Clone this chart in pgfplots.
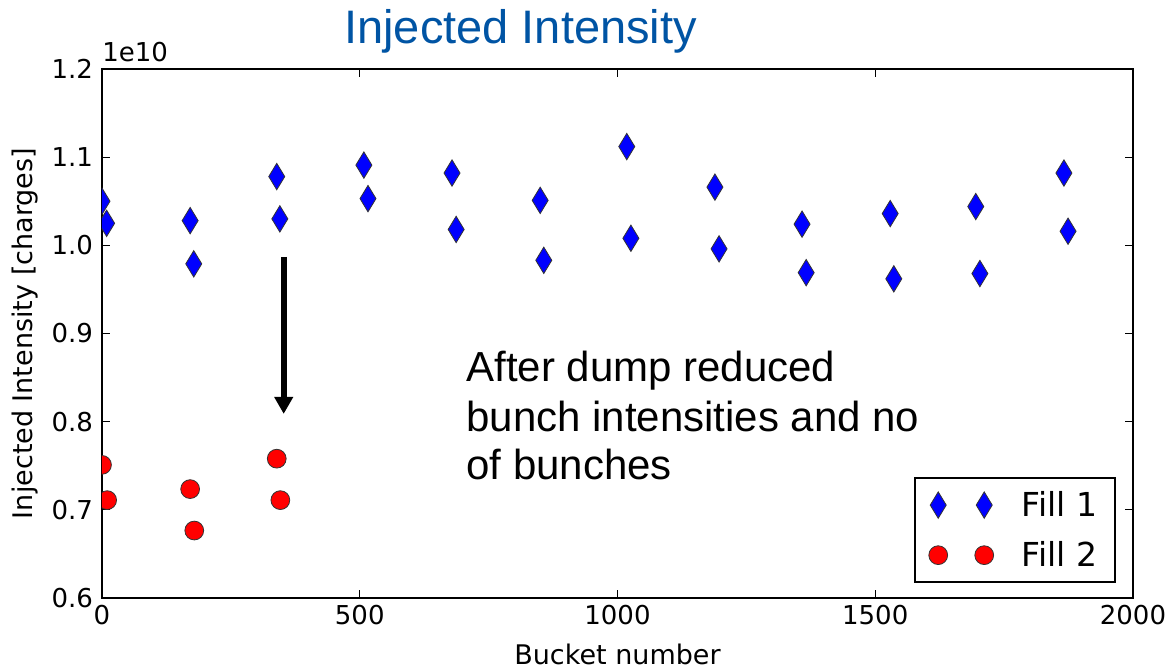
\documentclass[border=0pt]{standalone}
\usepackage{fontspec}
\setmainfont{DejaVu Sans}
\newfontfamily\arial{Liberation Sans}
\usepackage{pgfplots}
\pgfplotsset{compat=1.18}
\usetikzlibrary{arrows.meta}
\definecolor{titleblue}{RGB}{0,84,164}

\begin{document}
\begin{tikzpicture}
\useasboundingbox (-51pt,-35pt) rectangle (533pt,299pt);
\begin{axis}[
  scale only axis, width=515.5pt, height=264.5pt,
  at={(0,0)}, anchor=south west,
  xmin=0, xmax=2000, ymin=0.6, ymax=1.2,
  xtick={0,500,1000,1500,2000},
  ytick={0.6,0.7,0.8,0.9,1.0,1.1,1.2},
  /pgf/number format/assume math mode=true,
  xticklabel style={/pgf/number format/1000 sep={}, font=\fontsize{13}{15}\selectfont},
  yticklabel style={/pgf/number format/fixed, /pgf/number format/fixed zerofill, /pgf/number format/precision=1, font=\fontsize{13}{15}\selectfont, xshift=-1pt},
  tick align=inside, major tick length=4pt,
  every tick/.style={black, line width=0.6pt},
  axis line style={line width=0.8pt},
  xlabel={Bucket number},
  ylabel={Injected Intensity [charges]},
  xlabel style={font=\fontsize{13.5}{16}\selectfont, at={(axis description cs:0.5,-0.1248)}, anchor=base, inner sep=0pt},
  ylabel style={font=\fontsize{13.5}{16}\selectfont, at={(axis description cs:-0.0611,0.5)}, anchor=south, rotate=0, inner sep=0pt},
  clip marker paths=true,
  legend cell align=left,
  legend image code/.code={\draw[only marks] plot coordinates {(0pt,0pt) (23pt,0pt)};},
  legend style={draw=black, line width=0.8pt, font=\fontsize{16.5}{19}\selectfont,
    at={(rel axis cs:1,0)}, anchor=south east, xshift=-8.5pt, yshift=7.5pt,
    inner xsep=7pt, inner ysep=4.5pt, row sep=7pt, column sep=12pt},
  after end axis/.code={
    \node[anchor=base, font=\arial\fontsize{23.5}{28}\selectfont, text=titleblue, inner sep=0pt, yshift=12.5pt] at (rel axis cs:0.406,1) {Injected Intensity};
    \node[anchor=base west, font=\fontsize{13}{15}\selectfont, inner sep=0pt, yshift=3.6pt] at (rel axis cs:0,1) {1e10};
    \node[anchor=base west, font=\arial\fontsize{21}{25}\selectfont, inner sep=0pt] at (axis cs:706,0.8451) {After dump reduced};
    \node[anchor=base west, font=\arial\fontsize{21}{25}\selectfont, inner sep=0pt] at (axis cs:706,0.7884) {bunch intensities and no};
    \node[anchor=base west, font=\arial\fontsize{21}{25}\selectfont, inner sep=0pt] at (axis cs:706,0.7340) {of bunches};
    \draw[line width=3pt, -{Triangle[width=9pt,length=8.5pt]}] (axis cs:352.5,0.9868) -- (axis cs:352.5,0.8088);
  },
]
\addplot[only marks, mark=diamond*, mark size=6.6pt,
  mark options={fill={rgb,255:red,0;green,0;blue,255}, draw=black!80, line width=0.4pt, xscale=0.81}]
coordinates {
(0,1.050) (9,1.025)
(171,1.028) (178,0.979)
(339,1.078) (345,1.030)
(508,1.091) (516,1.053)
(679,1.082) (687,1.018)
(850,1.051) (857,0.983)
(1018,1.112) (1026,1.008)
(1189,1.066) (1197,0.996)
(1358,1.024) (1366,0.969)
(1529,1.036) (1536,0.962)
(1695,1.044) (1703,0.968)
(1866,1.082) (1874,1.016)
};
\addlegendentry{Fill 1}
\addplot[only marks, mark=*, mark size=4.7pt,
  mark options={fill={rgb,255:red,255;green,0;blue,0}, draw=black!80, line width=0.4pt}]
coordinates {
(0,0.751) (10,0.711)
(171,0.7235) (179,0.6765)
(339,0.758) (346,0.711)
};
\addlegendentry{Fill 2}
\end{axis}
\end{tikzpicture}
\end{document}
